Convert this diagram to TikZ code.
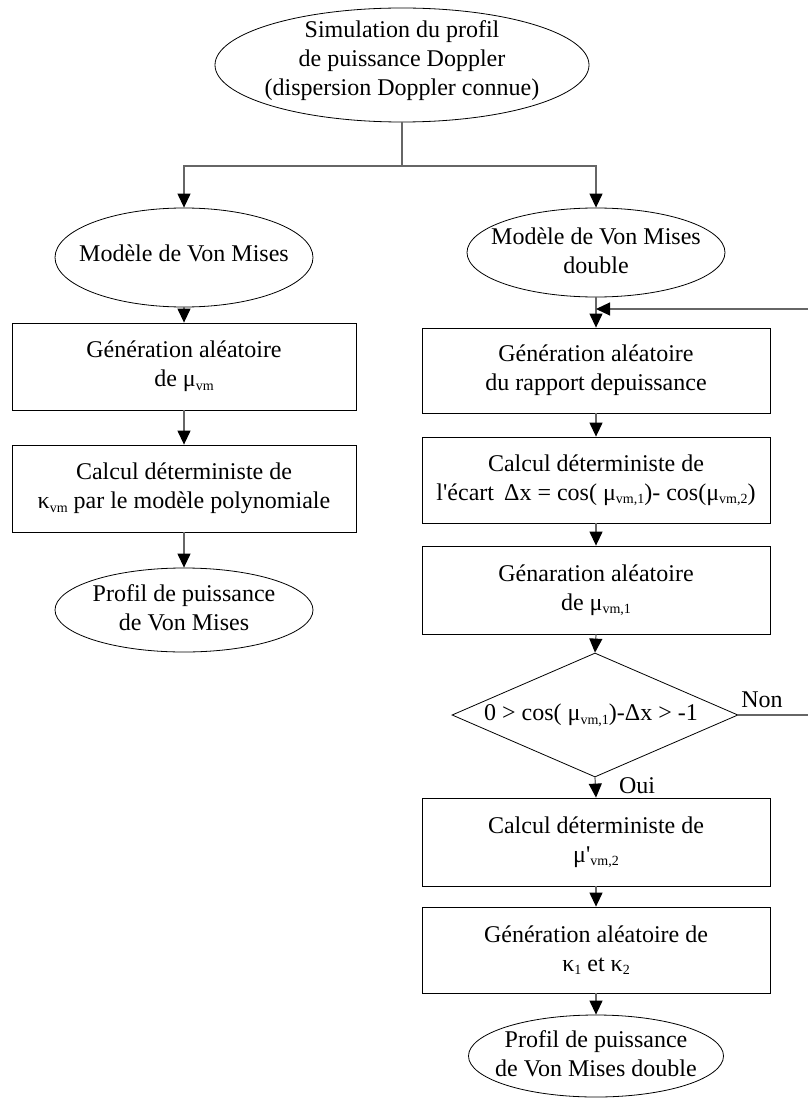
\documentclass[tikz,border=0pt]{standalone}
\usepackage{fontspec}
\setmainfont{Liberation Serif}[Ligatures=TeXOff]
\usetikzlibrary{shapes.geometric,arrows.meta}
\newcommand{\sbs}[1]{\raisebox{-3.5pt}{\fontsize{14}{14}\selectfont #1}}
\begin{document}
\begin{tikzpicture}[x=1pt,y=-1pt,
  txt/.style={font=\fontsize{24}{29}\selectfont, align=center, inner sep=0pt},
  box/.style={draw, line width=0.8pt, rectangle, minimum width=348pt, inner sep=0pt, txt},
  ell/.style={draw, ellipse, line width=0.8pt, inner sep=0pt},
  dia/.style={draw, diamond, line width=0.8pt, inner sep=0pt},
  conn/.style={draw=black!60, line width=1.2pt, -{Triangle[length=14pt,width=13pt,color=black,fill=black]}},
  plain/.style={draw=black!60, line width=1.2pt}
]
\useasboundingbox (0,0) rectangle (807,1099);
% top
\node[ell, minimum width=374pt, minimum height=114pt,
  label={[txt,yshift=4pt]center:{Simulation du profil\\de puissance Doppler\\(dispersion Doppler connue)}}] (top) at (402,65) {};
\coordinate (split) at (402,166);
% left column
\node[ell, minimum width=258pt, minimum height=99pt,
  label={[txt,yshift=4pt]center:{Modèle de Von Mises}}] (L1) at (184,257.5) {};
\node[box, minimum width=344pt, minimum height=87pt] (L2) at (184,366.5)
  {Génération aléatoire\\de μ\sbs{vm}};
\node[box, minimum width=344pt, minimum height=87pt] (L3) at (184,488.5)
  {Calcul déterministe de\\κ\sbs{vm} par le modèle polynomiale};
\node[ell, minimum width=258pt, minimum height=84pt,
  label={[txt,yshift=2pt]center:{Profil de puissance\\de Von Mises}}] (L4) at (184,610) {};
% right column
\node[ell, minimum width=258pt, minimum height=89pt,
  label={[txt,yshift=2pt]center:{Modèle de Von Mises\\double}}] (R1) at (596,252.5) {};
\node[box, minimum height=85pt] (R2) at (596,370.5)
  {Génération aléatoire\\du rapport depuissance};
\node[box, minimum height=86pt] (R3) at (596,480)
  {Calcul déterministe de\\l'écart \,Δx = cos( μ\sbs{vm,1})- cos(μ\sbs{vm,2})};
\node[box, minimum height=88pt] (R4) at (596,590)
  {Génaration aléatoire\\de μ\sbs{vm,1}};
\node[dia, minimum width=286pt, minimum height=124pt,
  label={[txt,xshift=-4pt]center:{0 > cos( μ\sbs{vm,1})-Δx > -1}}] (D) at (595,715) {};
\node[box, minimum height=88pt] (R5) at (596,842)
  {Calcul déterministe de\\μ'\sbs{vm,2}};
\node[box, minimum height=86pt] (R6) at (596,950)
  {Génération aléatoire de\\κ\sbs{1} et κ\sbs{2}};
\node[ell, minimum width=255pt, minimum height=82pt,
  label={[txt,yshift=2pt]center:{Profil de puissance\\de Von Mises double}}] (R7) at (596,1056) {};
% labels
\node[txt, anchor=base] (non) at (762,707) {Non};
\node[txt, anchor=base] (oui) at (637,793) {Oui};
% feedback coordinates
\coordinate (fbr) at (815,715);
\coordinate (fbt) at (815,309);
% connectors
\draw[plain] (top.south) -- (split);
\draw[conn] (split) -| (L1.north);
\draw[conn] (split) -| (R1.north);
\draw[conn] (L1.south) -- (L2.north);
\draw[conn] (L2.south) -- (L3.north);
\draw[conn] (L3.south) -- (L4.north);
\draw[conn] (R1.south) -- (R2.north);
\draw[conn] (R2.south) -- (R3.north);
\draw[conn] (R3.south) -- (R4.north);
\draw[conn] (R4.south) -- (D.north);
\draw[conn] (D.south) -- (R5.north);
\draw[conn] (R5.south) -- (R6.north);
\draw[conn] (R6.south) -- (R7.north);
\draw[conn] (D.east) -- (fbr) -- (fbt) -- (R1.south |- fbt);
\end{tikzpicture}
\end{document}
